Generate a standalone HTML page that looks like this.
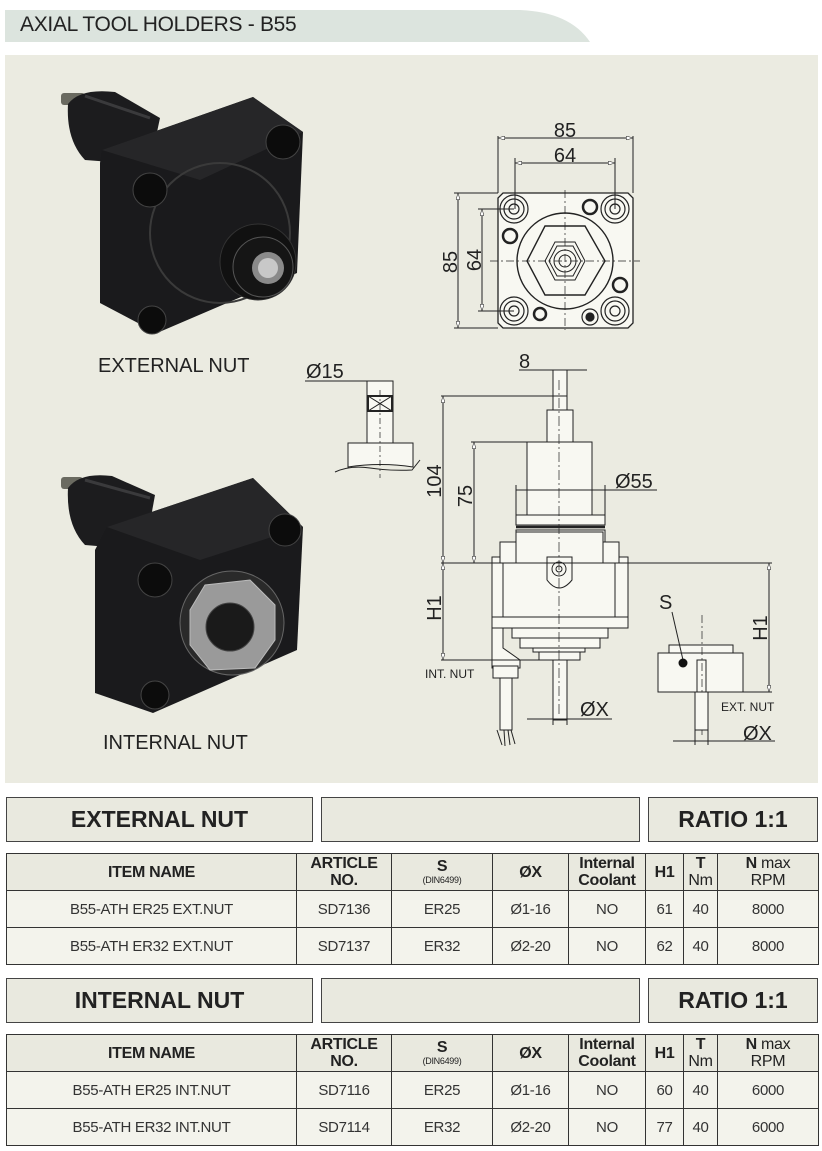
<!DOCTYPE html>
<html><head><meta charset="utf-8"><style>
*{margin:0;padding:0;box-sizing:border-box}
body{width:822px;height:1151px;background:#fff;position:relative;font-family:"Liberation Sans",Arial,sans-serif;color:#222;overflow:hidden}
.abs{position:absolute}
.box{position:absolute;background:#e9e9df;border:1.5px solid #444;display:flex;align-items:center;justify-content:center;font-weight:bold;font-size:23px;color:#222}
table{position:absolute;left:6px;border-collapse:collapse;table-layout:fixed;width:812px}
td{border:1.5px solid #333;text-align:center;font-size:15px;color:#333;padding:0;letter-spacing:-0.3px}
tr.h td{background:#e9e9df;font-weight:bold;font-size:16px;line-height:17px;color:#222;height:37px}
tr.r td{background:#f3f3ec;height:37px}
.sm{font-size:9px;font-weight:normal;display:block;line-height:11px}
.nm{font-weight:normal}
</style></head><body>
<svg class="abs" style="left:0;top:0" width="822" height="50"><path d="M5 10 H520 Q570 12 590 42 H5 Z" fill="#dce4de"/></svg>
<div class="abs" style="left:20px;top:13px;font-size:21px;color:#222;letter-spacing:-0.3px">AXIAL TOOL HOLDERS - B55</div>
<div class="abs" style="left:5px;top:55px;width:813px;height:728px;background:#ebebe1"></div>

<svg class="abs" style="left:0;top:0" width="822" height="790" font-family="Liberation Sans, Arial, sans-serif">
<defs>
<marker id="a" viewBox="0 0 10 6" refX="10" refY="3" markerWidth="8" markerHeight="4" orient="auto-start-reverse"><path d="M0 0 L10 3 L0 6 Z" fill="#fff" stroke="#222" stroke-width="0.8"/></marker>
</defs>
<!-- photo 1 -->
<rect x="61" y="93" width="24" height="12" rx="3" fill="#6a6a60"/>
<path d="M68 104 Q80 88 115 92 L160 118 L150 165 L85 160 Q66 140 68 104 Z" fill="#1c1c1e"/>
<path d="M85 96 L150 118" stroke="#3a3a3c" stroke-width="3"/>
<polygon points="102,150 253,97 303,132 297,273 157,333 100,303 100,163" fill="#1a1a1c"/>
<polygon points="102,150 253,97 303,132 200,180" fill="#262628"/>
<circle cx="220" cy="233" r="70" fill="none" stroke="#3a3a3a" stroke-width="2"/>
<circle cx="150" cy="190" r="17" fill="#0c0c0c" stroke="#444"/>
<circle cx="283" cy="142" r="17" fill="#0c0c0c" stroke="#444"/>
<circle cx="152" cy="320" r="14" fill="#0c0c0c" stroke="#444"/>
<circle cx="258" cy="262" r="38" fill="#111" stroke="#333"/>
<circle cx="263" cy="267" r="30" fill="#151515" stroke="#555"/>
<circle cx="268" cy="268" r="16" fill="#8a8a8a"/>
<circle cx="268" cy="268" r="10" fill="#c8c8c8"/>
<text x="98" y="372" font-size="20" fill="#222">EXTERNAL NUT</text>
<!-- photo 2 -->
<rect x="61" y="477" width="22" height="12" rx="3" fill="#6a6a60"/>
<path d="M68 488 Q80 472 112 476 L155 495 L145 550 L85 545 Q66 525 68 488 Z" fill="#1c1c1e"/>
<path d="M85 480 L150 498" stroke="#3a3a3c" stroke-width="3"/>
<polygon points="107,527 253,478 303,527 297,650 153,713 95,693 95,550" fill="#1a1a1c"/>
<polygon points="107,527 253,478 303,527 200,560" fill="#262628"/>
<circle cx="155" cy="580" r="17" fill="#0c0c0c" stroke="#444"/>
<circle cx="285" cy="530" r="16" fill="#0c0c0c" stroke="#444"/>
<circle cx="155" cy="695" r="14" fill="#0c0c0c" stroke="#444"/>
<circle cx="232" cy="623" r="52" fill="#2a2a2a" stroke="#666"/>
<polygon points="190,610 205,585 250,580 275,605 275,640 255,668 210,670 190,645" fill="#9a9a9a" stroke="#bbb"/>
<circle cx="230" cy="627" r="24" fill="#1a1a1a" stroke="#444"/>
<text x="103" y="749" font-size="20" fill="#222">INTERNAL NUT</text>

<g stroke="#222" stroke-width="1" fill="none">
<!-- top view -->
<path d="M503 193 H628 L633 198 V323 L628 328 H503 L498 323 V198 Z" fill="#f8f8f2" stroke-width="1.3"/>
<line x1="498" y1="136" x2="498" y2="193"/><line x1="633" y1="136" x2="633" y2="193"/>
<line x1="498" y1="138" x2="633" y2="138" marker-start="url(#a)" marker-end="url(#a)"/>
<line x1="515" y1="158" x2="515" y2="209"/><line x1="615" y1="158" x2="615" y2="209"/>
<line x1="515" y1="163" x2="615" y2="163" marker-start="url(#a)" marker-end="url(#a)"/>
<line x1="454" y1="193" x2="498" y2="193"/><line x1="454" y1="328" x2="498" y2="328"/>
<line x1="458" y1="193" x2="458" y2="328" marker-start="url(#a)" marker-end="url(#a)"/>
<line x1="478" y1="209" x2="514" y2="209"/><line x1="478" y1="311" x2="514" y2="311"/>
<line x1="482" y1="209" x2="482" y2="311" marker-start="url(#a)" marker-end="url(#a)"/>
<circle cx="565" cy="261" r="48" stroke-width="1.4"/>
<polygon points="527,261 545,226 585,226 605,261 585,295 545,295" stroke-width="1.4"/>
<polygon points="549,261 557,246 573,246 581,261 573,276 557,276"/>
<polygon points="545,261 555,242 575,242 585,261 575,280 555,280"/>
<circle cx="565" cy="261" r="11"/><circle cx="565" cy="261" r="6"/>
<g stroke-width="1.2">
<circle cx="514" cy="209" r="14"/><circle cx="514" cy="209" r="10"/><circle cx="514" cy="209" r="5"/>
<circle cx="615" cy="209" r="14"/><circle cx="615" cy="209" r="10"/><circle cx="615" cy="209" r="5"/>
<circle cx="514" cy="311" r="14"/><circle cx="514" cy="311" r="10"/><circle cx="514" cy="311" r="5"/>
<circle cx="615" cy="311" r="14"/><circle cx="615" cy="311" r="10"/><circle cx="615" cy="311" r="5"/>
<circle cx="590" cy="207" r="7" stroke-width="2.5"/><circle cx="510" cy="236" r="7" stroke-width="2.5"/>
<circle cx="620" cy="285" r="7" stroke-width="2.5"/><circle cx="540" cy="314" r="6" stroke-width="2.5"/>
<circle cx="590" cy="317" r="8"/><circle cx="590" cy="317" r="4" fill="#222"/>
</g>
<line x1="565" y1="190" x2="565" y2="330" stroke-dasharray="8 3 2 3" stroke-width="0.7"/>
<line x1="490" y1="261" x2="640" y2="261" stroke-dasharray="8 3 2 3" stroke-width="0.7"/>

<!-- Ø15 detail -->
<line x1="305" y1="381" x2="393" y2="381"/>
<rect x="367" y="381" width="26" height="62" fill="#f8f8f2"/>
<rect x="368" y="396" width="24" height="15" stroke-width="2"/>
<path d="M368 396 L392 411 M392 396 L368 411"/>
<path d="M348 443 H413 V467 Q380 462 348 467 Z" fill="#f8f8f2"/>
<path d="M335 472 Q350 465 370 468 T412 470 L420 460" />
<line x1="380" y1="390" x2="380" y2="478" stroke-dasharray="6 3 2 3" stroke-width="0.7"/>

<!-- main side view -->
<g fill="#f8f8f2">
<rect x="553" y="370" width="14" height="40"/>
<rect x="547" y="410" width="26" height="32"/>
<rect x="527" y="442" width="65" height="73"/>
<rect x="516" y="515" width="89" height="10"/>
<rect x="516" y="530" width="89" height="13"/>
<rect x="516" y="532" width="87" height="31"/>
<rect x="500" y="542" width="16" height="21"/>
<rect x="603" y="542" width="16" height="21"/>
<rect x="492" y="557" width="8" height="6"/>
<rect x="619" y="557" width="9" height="6"/>
<rect x="492" y="563" width="136" height="65"/>
<rect x="512" y="628" width="96" height="10"/>
<rect x="520" y="638" width="80" height="10"/>
<rect x="533" y="648" width="52" height="4"/>
<rect x="539" y="652" width="41" height="8"/>
<rect x="553" y="660" width="14" height="60"/>
<path d="M492 628 H503 V648 L520 660 V668 H492 Z"/>
<rect x="493" y="666" width="25" height="12"/>
<rect x="500" y="678" width="12" height="52"/>
<path d="M547 557 H572 V580 Q559 596 547 580 Z"/>
</g>
<line x1="516" y1="527" x2="605" y2="527" stroke-width="2.5"/>
<circle cx="559" cy="569" r="7"/><circle cx="559" cy="569" r="3"/>
<line x1="492" y1="617" x2="628" y2="617"/>
<line x1="503" y1="563" x2="503" y2="617"/><line x1="615" y1="563" x2="615" y2="617"/>
<line x1="559" y1="380" x2="559" y2="715" stroke-dasharray="10 3 2 3" stroke-width="0.7"/>
<path d="M497 730 L502 745 M504 730 L505 746 M508 730 L510 745 M511 730 L515 744"/>
<!-- dims main -->
<line x1="519" y1="370" x2="587" y2="370"/>
<line x1="441" y1="396" x2="567" y2="396"/>
<line x1="443" y1="396" x2="443" y2="563" marker-start="url(#a)" marker-end="url(#a)"/>
<line x1="443" y1="563" x2="443" y2="660" marker-start="url(#a)" marker-end="url(#a)"/>
<line x1="471" y1="442" x2="527" y2="442"/>
<line x1="474" y1="442" x2="474" y2="563" marker-start="url(#a)" marker-end="url(#a)"/>
<line x1="516" y1="485" x2="516" y2="515"/><line x1="605" y1="485" x2="605" y2="515"/>
<line x1="516" y1="490" x2="657" y2="490"/>
<line x1="441" y1="563" x2="772" y2="563"/>
<line x1="441" y1="660" x2="540" y2="660"/>
<line x1="553" y1="720" x2="553" y2="725"/><line x1="567" y1="720" x2="567" y2="725"/>
<line x1="527" y1="719" x2="612" y2="719"/>
<!-- ext nut -->
<path d="M669 645 H733 V653 H669 Z" fill="#f8f8f2"/>
<rect x="658" y="653" width="85" height="39" fill="#f8f8f2"/>
<rect x="697" y="660" width="9" height="32"/>
<line x1="702" y1="615" x2="702" y2="735" stroke-dasharray="8 3 2 3" stroke-width="0.7"/>
<rect x="695" y="692" width="13" height="38" fill="#f8f8f2"/>
<line x1="672" y1="612" x2="683" y2="660"/>
<line x1="743" y1="692" x2="772" y2="692"/>
<line x1="769" y1="563" x2="769" y2="692" marker-start="url(#a)" marker-end="url(#a)"/>
<line x1="673" y1="741" x2="775" y2="741"/>
<line x1="695" y1="730" x2="695" y2="745"/><line x1="708" y1="730" x2="708" y2="745"/>
</g>
<circle cx="683" cy="663" r="4.5" fill="#111"/>
<g fill="#222" font-size="20">
<text x="565" y="137" text-anchor="middle">85</text>
<text x="565" y="162" text-anchor="middle">64</text>
<text transform="translate(457,262) rotate(-90)" text-anchor="middle">85</text>
<text transform="translate(481,260) rotate(-90)" text-anchor="middle">64</text>
<text x="306" y="378">Ø15</text>
<text x="519" y="368">8</text>
<text transform="translate(441,481) rotate(-90)" text-anchor="middle">104</text>
<text transform="translate(472,496) rotate(-90)" text-anchor="middle">75</text>
<text x="615" y="488">Ø55</text>
<text transform="translate(441,608) rotate(-90)" text-anchor="middle">H1</text>
<text x="580" y="716">ØX</text>
<text x="659" y="609">S</text>
<text transform="translate(767,628) rotate(-90)" text-anchor="middle">H1</text>
<text x="743" y="740">ØX</text>
<text x="425" y="678" font-size="12">INT. NUT</text>
<text x="721" y="711" font-size="12">EXT. NUT</text>
</g>
</svg>

<div class="box" style="left:6px;top:797px;width:307px;height:45px">EXTERNAL NUT</div>
<div class="box" style="left:321px;top:797px;width:319px;height:45px"></div>
<div class="box" style="left:648px;top:797px;width:170px;height:45px">RATIO 1:1</div>
<table style="top:853px">
<colgroup><col style="width:290px"><col style="width:95px"><col style="width:101px"><col style="width:76px"><col style="width:77px"><col style="width:38px"><col style="width:34px"><col style="width:101px"></colgroup>
<tr class="h"><td>ITEM NAME</td><td>ARTICLE<br>NO.</td><td>S<span class="sm">(DIN6499)</span></td><td>ØX</td><td>Internal<br>Coolant</td><td>H1</td><td>T<br><span class="nm">Nm</span></td><td>N <span class="nm">max</span><br><span class="nm">RPM</span></td></tr>
<tr class="r"><td>B55-ATH ER25 EXT.NUT</td><td>SD7136</td><td>ER25</td><td>Ø1-16</td><td>NO</td><td>61</td><td>40</td><td>8000</td></tr>
<tr class="r"><td>B55-ATH ER32 EXT.NUT</td><td>SD7137</td><td>ER32</td><td>Ø2-20</td><td>NO</td><td>62</td><td>40</td><td>8000</td></tr>
</table>

<div class="box" style="left:6px;top:978px;width:307px;height:45px">INTERNAL NUT</div>
<div class="box" style="left:321px;top:978px;width:319px;height:45px"></div>
<div class="box" style="left:648px;top:978px;width:170px;height:45px">RATIO 1:1</div>
<table style="top:1034px">
<colgroup><col style="width:290px"><col style="width:95px"><col style="width:101px"><col style="width:76px"><col style="width:77px"><col style="width:38px"><col style="width:34px"><col style="width:101px"></colgroup>
<tr class="h"><td>ITEM NAME</td><td>ARTICLE<br>NO.</td><td>S<span class="sm">(DIN6499)</span></td><td>ØX</td><td>Internal<br>Coolant</td><td>H1</td><td>T<br><span class="nm">Nm</span></td><td>N <span class="nm">max</span><br><span class="nm">RPM</span></td></tr>
<tr class="r"><td>B55-ATH ER25 INT.NUT</td><td>SD7116</td><td>ER25</td><td>Ø1-16</td><td>NO</td><td>60</td><td>40</td><td>6000</td></tr>
<tr class="r"><td>B55-ATH ER32 INT.NUT</td><td>SD7114</td><td>ER32</td><td>Ø2-20</td><td>NO</td><td>77</td><td>40</td><td>6000</td></tr>
</table>
</body></html>
